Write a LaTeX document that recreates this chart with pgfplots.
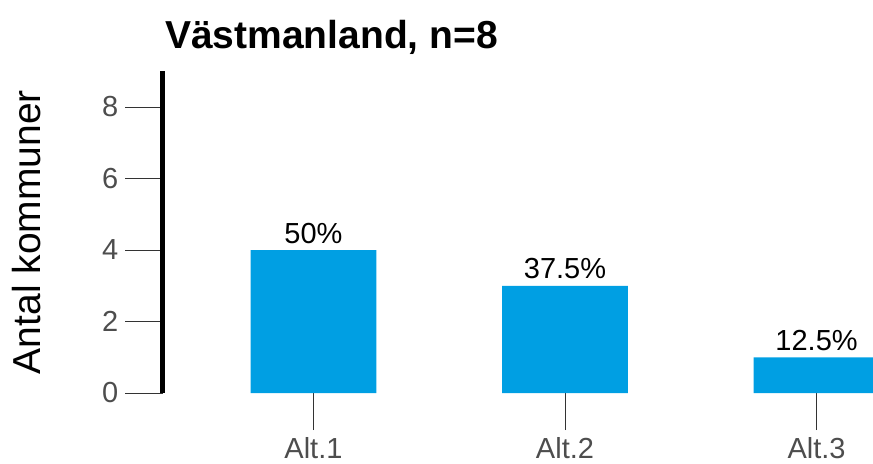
\documentclass[border=0pt]{standalone}
\usepackage{fontspec}
\setmainfont{Liberation Sans}
\usepackage{pgfplots}
\pgfplotsset{compat=1.18}
\definecolor{barblue}{HTML}{009FE3}
\definecolor{ticklab}{HTML}{4D4D4D}
\definecolor{tickcol}{HTML}{333333}
\begin{document}
\begin{tikzpicture}
\begin{axis}[
  at={(162.5bp,71bp)}, anchor=south west,
  scale only axis, width=805bp, height=321.75bp,
  xmin=0.4, xmax=3.6, ymin=0, ymax=9,
  separate axis lines,
  axis x line*=bottom, axis y line*=left,
  x axis line style={draw=none},
  y axis line style={line width=4bp, -, black},
  xtick={1,2,3}, xticklabels={Alt.1,Alt.2,Alt.3},
  ytick={0,2,4,6,8},
  tick align=outside,
  major tick length=37bp,
  every tick/.style={line width=1bp, tickcol},
  tick label style={font=\fontsize{29bp}{34bp}\selectfont, text=ticklab, inner sep=0pt},
  /pgf/number format/assume math mode=true,
  xticklabel style={yshift=-7bp},
  yticklabel style={xshift=-7bp},
  ylabel={Antal kommuner},
  ylabel style={at={([xshift=-121.5bp]axis description cs:0,0.5)}, anchor=base, rotate=0, inner sep=0pt, font=\fontsize{39bp}{47bp}\selectfont, black},
  title={Västmanland, n=8},
  title style={at={(axis description cs:0,1)}, anchor=base west, yshift=17bp, xshift=2.5bp, font=\fontsize{39bp}{47bp}\selectfont\bfseries, inner sep=0pt},
  ybar, bar width=0.5,
  clip=false,
]
\addplot[fill=barblue, draw=none, nodes near coords, point meta=explicit symbolic,
  nodes near coords style={font=\fontsize{29bp}{34bp}\selectfont, black, anchor=base, inner sep=0pt, yshift=7bp}]
  coordinates {(1,4) [50\%] (2,3) [37.5\%] (3,1) [12.5\%]};
\end{axis}
\pgfresetboundingbox
\useasboundingbox (0,0) rectangle (873bp,464bp);
\end{tikzpicture}
\end{document}
